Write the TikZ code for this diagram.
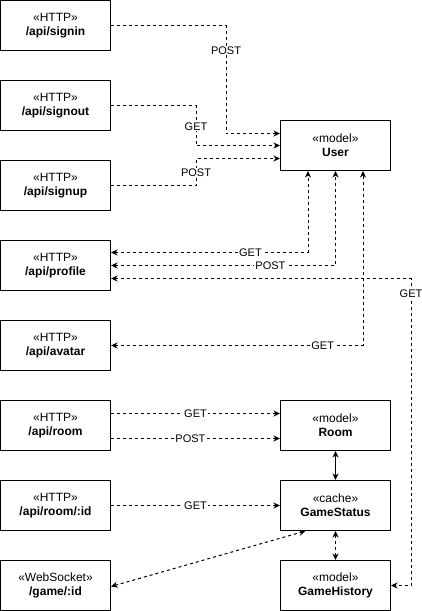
\documentclass[tikz,border=0pt]{standalone}
\usepackage{fontspec}
\setmainfont{Liberation Sans}
\usetikzlibrary{arrows.meta,calc}
\begin{document}
\begin{tikzpicture}[x=1pt,y=-1pt,
  >={Stealth[length=6.5pt,width=6pt,inset=2pt]},
  box/.style={draw,line width=1pt,minimum width=110pt,minimum height=50pt,
    inner sep=0pt,align=center,font=\fontsize{12}{14}\selectfont},
  link/.style={line width=1pt,dash pattern=on 3pt off 3pt},
  solidlink/.style={line width=1pt},
  lbl/.style={fill=white,inner sep=1pt,font=\fontsize{11}{13}\selectfont}
]
\useasboundingbox (0,0) rectangle (422,611);

% endpoints (left column)
\node[box] (signin)  at (55.5,25.5)  {«HTTP»\\\textbf{/api/signin}};
\node[box] (signout) at (55.5,105.5) {«HTTP»\\\textbf{/api/signout}};
\node[box] (signup)  at (55.5,185.5) {«HTTP»\\\textbf{/api/signup}};
\node[box] (profile) at (55.5,265.5) {«HTTP»\\\textbf{/api/profile}};
\node[box] (avatar)  at (55.5,345.5) {«HTTP»\\\textbf{/api/avatar}};
\node[box] (room)    at (55.5,425.5) {«HTTP»\\\textbf{/api/room}};
\node[box] (roomid)  at (55.5,505.5) {«HTTP»\\\textbf{/api/room/:id}};
\node[box] (ws)      at (55.5,585.5) {«WebSocket»\\\textbf{/game/:id}};

% models and cache (right column)
\node[box] (user)    at (335.5,145.5) {«model»\\\textbf{User}};
\node[box] (roomm)   at (335.5,425.5) {«model»\\\textbf{Room}};
\node[box] (status)  at (335.5,505.5) {«cache»\\\textbf{GameStatus}};
\node[box] (history) at (335.5,585.5) {«model»\\\textbf{GameHistory}};

% auth endpoints -> User
\draw[link,->] (signin.east) -| ($(signin.east)+(115,0)$) coordinate (c1)
  |- ([yshift=12pt]user.west);
\node[lbl] at ($(c1)+(0,25)$) {POST};
\draw[link,->] (signout.east) -- ($(signout.east)+(85,0)$) coordinate (c2)
  |- (user.west);
\node[lbl] at ($(c2)+(0,21)$) {GET};
\draw[link,->] (signup.east) -- ($(signup.east)+(85,0)$) coordinate (c3)
  |- ([yshift=-13pt]user.west);
\node[lbl] at ($(c3)+(0,-13)$) {POST};

% profile / avatar <-> User
\draw[link,<->] ([yshift=13pt]profile.east) -| ([xshift=-27.5pt]user.south)
  node[lbl,pos=0.354] {GET};
\draw[link,<->] (profile.east) -| (user.south)
  node[lbl,pos=0.355] {POST};
\draw[link,<->] (avatar.east) -| ([xshift=27.5pt]user.south)
  node[lbl,pos=0.42] {GET};

% profile <-> GameHistory
\draw[link,<->] ([yshift=-13pt]profile.east) -| ($(history.east)+(20,0)$) coordinate (c4)
  -- (history.east);
\node[lbl] at ($(c4)+(0,-292)$) {GET};

% room endpoints -> Room / GameStatus
\draw[link,->] ([yshift=12pt]room.east) -- ([yshift=12pt]roomm.west)
  node[lbl,pos=0.5] {GET};
\draw[link,->] ([yshift=-13pt]room.east) -- ([yshift=-13pt]roomm.west)
  node[lbl,pos=0.47] {POST};
\draw[link,->] (roomid.east) -- (status.west)
  node[lbl,pos=0.5] {GET};

% model links
\draw[solidlink,<->] (roomm.south) -- (status.north);
\draw[link,<->] (status.south) -- (history.north);
\draw[link,<->] ([yshift=-1pt]ws.east) -- ([xshift=-30pt]status.south);
\end{tikzpicture}
\end{document}
